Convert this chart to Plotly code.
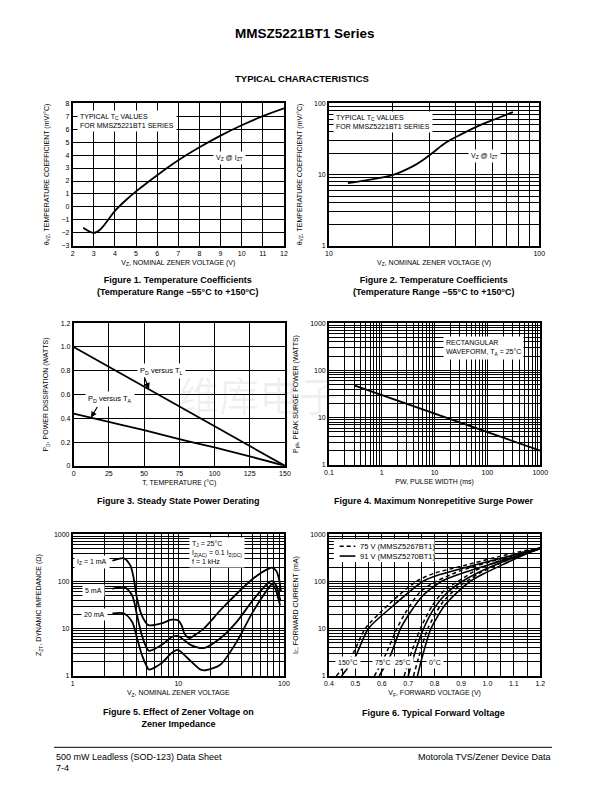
import plotly.graph_objects as go

# ---------------- data ----------------
# Figure 1: temperature coefficient vs Vz (2-12 V)
vz1 = [2.5, 3.0, 3.3, 3.7, 4.0, 4.5, 5.0, 6.0, 7.0, 8.0, 9.0, 10.0, 11.0, 12.0]
tc1 = [-1.6, -2.0, -1.75, -0.95, -0.3, 0.5, 1.2, 2.45, 3.6, 4.6, 5.5, 6.3, 7.0, 7.6]

# Figure 2: temperature coefficient vs Vz (10-100 V)
vz2 = [12.3, 15, 20, 25, 28, 31, 36, 42, 53, 62, 75]
tc2 = [7.6, 8.3, 9.8, 13, 16, 20, 28, 36, 50, 60, 75]

# Figure 3: power derating
t_l = [0, 150]
pd_tl = [1.0, 0.0]
t_a = [0, 25, 50, 75, 100, 125, 150]
pd_ta = [0.44, 0.37, 0.30, 0.225, 0.155, 0.08, 0.0]

# Figure 4: surge power vs pulse width
pw = [0.3, 1, 10, 100, 1000]
ppk = [48, 30, 12, 5, 2]

# Figure 5: dynamic impedance vs Vz
vz5_1ma = [2.38, 3.06, 3.52, 3.79, 4.07, 4.52, 5.22, 6.93, 8.6, 10.0, 10.8, 11.4, 12.7, 14.5, 17.5, 25, 35.7, 50.8, 72.6, 78, 85, 90, 94]
z5_1ma = [275, 310, 216, 114, 43, 19, 11.9, 12.9, 15.5, 15.0, 11.5, 8.0, 6.3, 7.5, 10.2, 24.6, 55, 114, 190, 195, 165, 110, 60]
vz5_5ma = [2.38, 3.06, 3.65, 4.07, 4.52, 5.03, 5.28, 6.93, 8.6, 10.0, 11.5, 13.2, 17.5, 25, 35.7, 50.8, 72.6, 77, 85, 90, 93]
z5_5ma = [70, 76, 51, 19, 7.3, 3.9, 3.4, 4.5, 6.6, 7.0, 5.6, 4.5, 3.9, 6.3, 14, 40, 97, 102, 80, 50, 38]
vz5_20ma = [2.38, 3.06, 3.65, 4.07, 4.52, 5.03, 5.28, 6.93, 8.6, 9.9, 12.2, 16.3, 18, 25, 35.7, 50.8, 72.6, 77, 83, 88, 92]
z5_20ma = [21, 21, 14, 6.3, 2.8, 1.6, 1.36, 1.87, 3.04, 3.56, 2.4, 1.36, 1.32, 1.73, 5.3, 22.7, 76, 88, 70, 45, 31]

# Figure 6: forward voltage (75 V dashed / 91 V solid)
vf_150_75 = [0.428, 0.484, 0.537, 0.632, 0.73, 0.80, 0.91, 1.033, 1.157, 1.20]
if_150_75 = [1, 2.5, 10, 35, 100, 150, 216, 325, 470, 520]
vf_150_91 = [0.448, 0.499, 0.549, 0.644, 0.755, 0.82, 0.92, 1.04, 1.16, 1.20]
if_150_91 = [1, 2.5, 10, 31, 100, 140, 200, 300, 440, 510]
vf_75_75 = [0.572, 0.61, 0.657, 0.69, 0.745, 0.805, 0.90, 1.03, 1.15, 1.20]
if_75_75 = [1, 2.5, 10, 22, 60, 100, 170, 280, 440, 505]
vf_75_91 = [0.59, 0.63, 0.671, 0.70, 0.755, 0.825, 0.92, 1.04, 1.16, 1.20]
if_75_91 = [1, 2.5, 10, 19, 50, 100, 160, 260, 420, 500]
vf_25_75 = [0.685, 0.706, 0.746, 0.79, 0.84, 0.889, 0.95, 1.04, 1.14, 1.20]
if_25_75 = [1, 2.5, 10, 30, 68, 100, 165, 270, 420, 505]
vf_25_91 = [0.70, 0.72, 0.758, 0.80, 0.85, 0.904, 0.96, 1.05, 1.15, 1.20]
if_25_91 = [1, 2.5, 10, 28, 60, 100, 150, 250, 400, 500]
vf_0_75 = [0.72, 0.74, 0.774, 0.83, 0.89, 0.922, 0.97, 1.05, 1.14, 1.20]
if_0_75 = [1, 2.5, 10, 36, 78, 100, 150, 245, 405, 505]
vf_0_91 = [0.735, 0.753, 0.786, 0.84, 0.90, 0.934, 0.98, 1.06, 1.15, 1.20]
if_0_91 = [1, 2.5, 10, 32, 70, 100, 140, 230, 390, 500]

legend_75 = "75 V (MMSZ5267BT1)"
legend_91 = "91 V (MMSZ5270BT1)"

# ---------------- layout helpers ----------------
PAGE_W, PAGE_H = 612, 792
OFF = 8  # browser body margin
W, H = PAGE_W - 2 * OFF, PAGE_H - 2 * OFF  # figure fits the viewport exactly
FONT = "Liberation Sans, Arial, Helvetica, sans-serif"


def px(x):
    return (x - OFF) / W


def py(y):
    return 1 - (y - OFF) / H


def dx(a, b):
    return [px(a), px(b)]


def dy(top, bottom):
    return [py(bottom), py(top)]


def log_ticks(e0, e1, labels):
    vals, text = [], []
    for e in range(e0, e1):
        for m in range(1, 10):
            vals.append(m * 10.0 ** e)
            text.append(labels[e - e0] if m == 1 else "")
    vals.append(10.0 ** e1)
    text.append(labels[-1])
    return vals, text


def ax(domain, anchor, title, standoff=4, **kw):
    d = dict(domain=domain, anchor=anchor, showline=True, linecolor="black", linewidth=1.6,
             mirror=True, showgrid=True, gridcolor="black", gridwidth=1.4, zeroline=False,
             ticks="", tickfont=dict(size=7, color="black", family=FONT),
             title=dict(text=title, font=dict(size=7, color="black", family=FONT), standoff=standoff))
    d.update(kw)
    return d


LINE = dict(color="black", width=1.8)

fig = go.Figure()

# Figure 1
fig.add_trace(go.Scatter(x=vz1, y=tc1, mode="lines", line=dict(LINE, shape="spline"),
                         xaxis="x", yaxis="y", showlegend=False))
# Figure 2
fig.add_trace(go.Scatter(x=vz2, y=tc2, mode="lines", line=dict(LINE, shape="spline"),
                         xaxis="x2", yaxis="y2", showlegend=False))
# Figure 3
fig.add_trace(go.Scatter(x=t_l, y=pd_tl, mode="lines", line=LINE, xaxis="x3", yaxis="y3", showlegend=False))
fig.add_trace(go.Scatter(x=t_a, y=pd_ta, mode="lines", line=dict(LINE, shape="spline"),
                         xaxis="x3", yaxis="y3", showlegend=False))
# Figure 4
fig.add_trace(go.Scatter(x=pw, y=ppk, mode="lines", line=LINE, xaxis="x4", yaxis="y4", showlegend=False))
# Figure 5
for xs, ys in [(vz5_1ma, z5_1ma), (vz5_5ma, z5_5ma), (vz5_20ma, z5_20ma)]:
    fig.add_trace(go.Scatter(x=xs, y=ys, mode="lines", line=dict(LINE, shape="spline", smoothing=0.8),
                             xaxis="x5", yaxis="y5", showlegend=False))
# Figure 6
pairs = [(vf_150_75, if_150_75, vf_150_91, if_150_91),
         (vf_75_75, if_75_75, vf_75_91, if_75_91),
         (vf_25_75, if_25_75, vf_25_91, if_25_91),
         (vf_0_75, if_0_75, vf_0_91, if_0_91)]
for k, (xd, yd, xs, ys) in enumerate(pairs):
    fig.add_trace(go.Scatter(x=xd, y=yd, mode="lines", name=legend_75, showlegend=False,
                             line=dict(color="black", width=1.5, dash="4px,3px", shape="spline", smoothing=0.7),
                             xaxis="x6", yaxis="y6"))
    fig.add_trace(go.Scatter(x=xs, y=ys, mode="lines", name=legend_91, showlegend=False,
                             line=dict(color="black", width=1.6, shape="spline", smoothing=0.7),
                             xaxis="x6", yaxis="y6"))

# axes
vz_lbl = "V<sub>Z</sub>, NOMINAL ZENER VOLTAGE (V)"
tc_lbl = "θ<sub>VZ</sub>, TEMPERATURE COEFFICIENT (mV/°C)"

x2v, x2t = log_ticks(1, 2, ["10", "100"])
y2v, y2t = log_ticks(0, 2, ["1", "10", "100"])
x4v, x4t = log_ticks(-1, 3, ["0.1", "1", "10", "100", "1000"])
y4v, y4t = log_ticks(0, 3, ["1", "10", "100", "1000"])
x5v, x5t = log_ticks(0, 2, ["1", "10", "100"])
x6v = [round(0.4 + 0.05 * i, 2) for i in range(17)]
x6t = [("%.1f" % v) if i % 2 == 0 else "" for i, v in enumerate(x6v)]

YS = 11  # y title standoff

fig.update_layout(
    width=W, height=H, margin=dict(l=0, r=0, t=0, b=0),
    paper_bgcolor="white", plot_bgcolor="white", showlegend=False,
    font=dict(family=FONT, color="black"),
    xaxis=ax(dx(69, 285), "y", vz_lbl, range=[2, 12], tickvals=list(range(2, 13))),
    yaxis=ax(dy(100, 244), "x", tc_lbl, YS, range=[-3, 8], tickvals=list(range(-3, 9))),
    xaxis2=ax(dx(331, 546), "y2", vz_lbl, type="log", range=[1, 2], tickvals=x2v, ticktext=x2t),
    yaxis2=ax(dy(100, 244), "x2", tc_lbl, YS, type="log", range=[0, 2], tickvals=y2v, ticktext=y2t),
    xaxis3=ax(dx(70, 286), "y3", "T, TEMPERATURE (°C)", range=[0, 150], tickvals=[0, 25, 50, 75, 100, 125, 150]),
    yaxis3=ax(dy(322, 466), "x3", "P<sub>D</sub>, POWER DISSIPATION (WATTS)", YS, range=[0, 1.2],
              tickvals=[0, 0.2, 0.4, 0.6, 0.8, 1.0, 1.2], ticktext=["0", "0.2", "0.4", "0.6", "0.8", "1.0", "1.2"]),
    xaxis4=ax(dx(331, 547), "y4", "PW, PULSE WIDTH (ms)", type="log", range=[-1, 3], tickvals=x4v, ticktext=x4t),
    yaxis4=ax(dy(322, 465), "x4", "P<sub>pk</sub>, PEAK SURGE POWER (WATTS)", YS, type="log", range=[0, 3],
              tickvals=y4v, ticktext=y4t),
    xaxis5=ax(dx(69, 285), "y5", "V<sub>Z</sub>, NOMINAL ZENER VOLTAGE", type="log", range=[0, 2],
              tickvals=x5v, ticktext=x5t),
    yaxis5=ax(dy(535, 678), "x5", "Z<sub>ZT</sub>, DYNAMIC IMPEDANCE (Ω)", YS, type="log", range=[0, 3],
              tickvals=y4v, ticktext=y4t),
    xaxis6=ax(dx(331, 547), "y6", "V<sub>F</sub>, FORWARD VOLTAGE (V)", range=[0.4, 1.2], tickvals=x6v, ticktext=x6t),
    yaxis6=ax(dy(535, 678), "x6", "I<sub>F</sub>, FORWARD CURRENT (mA)", YS, type="log", range=[0, 3],
              tickvals=y4v, ticktext=y4t),
)

ann = []


def note(text, x, y, xref, yref, size=7, xanchor="center", yanchor="middle", bg=None, align="center", **kw):
    d = dict(text=text, x=x, y=y, xref=xref, yref=yref, showarrow=False, xanchor=xanchor, yanchor=yanchor,
             align=align, font=dict(size=size, family=FONT, color="black"))
    if bg:
        d.update(bgcolor=bg, borderpad=2)
    d.update(kw)
    ann.append(d)


# watermark (very faint)
note("维库电子", px(259), py(393), "paper", "paper",
     font=dict(size=40, family="Noto Sans CJK SC", color="rgba(0,0,0,0.06)"))

# page titles
note("<b>MMSZ5221BT1 Series</b>", px(306), py(30), "paper", "paper", size=13.5)
note("<b>TYPICAL CHARACTERISTICS</b>", px(303), py(75), "paper", "paper", size=9.5)

# captions
note("<b>Figure 1. Temperature Coefficients<br>(Temperature Range −55°C to +150°C)</b>", px(177), py(284),
     "paper", "paper", size=9)
note("<b>Figure 2. Temperature Coefficients<br>(Temperature Range −55°C to +150°C)</b>", px(438), py(284),
     "paper", "paper", size=9)
note("<b>Figure 3. Steady State Power Derating</b>", px(177), py(501), "paper", "paper", size=9)
note("<b>Figure 4. Maximum Nonrepetitive Surge Power</b>", px(438), py(501), "paper", "paper", size=9)
note("<b>Figure 5. Effect of Zener Voltage on<br>Zener Impedance</b>", px(177), py(720), "paper", "paper", size=9)
note("<b>Figure 6. Typical Forward Voltage</b>", px(438), py(715), "paper", "paper", size=9)

# footer
note("500 mW Leadless (SOD-123) Data Sheet", px(50), py(760), "paper", "paper", size=9, xanchor="left")
note("7-4", px(50), py(771), "paper", "paper", size=9, xanchor="left")
note("Motorola TVS/Zener Device Data", px(559), py(760), "paper", "paper", size=9, xanchor="right")

# Figure 1/2 notes
note("TYPICAL T<sub>C</sub> VALUES<br>FOR MMSZ5221BT1 SERIES", 2.2, 7.45, "x", "y", xanchor="left", yanchor="top",
     bg="white", align="left")
note("V<sub>Z</sub> @ I<sub>ZT</sub>", 9.4, 3.8, "x", "y", bg="white")
note("TYPICAL T<sub>C</sub> VALUES<br>FOR MMSZ5221BT1 SERIES", 1.0186, 1.889, "x2", "y2", xanchor="left",
     yanchor="top", bg="white", align="left")
note("V<sub>Z</sub> @ I<sub>ZT</sub>", 1.7395, 1.264, "x2", "y2", bg="white")

# Figure 3 labels + arrows
note("P<sub>D</sub> versus T<sub>L</sub>", 62.5, 0.8, "x3", "y3", size=7.5, bg="white")
note("P<sub>D</sub> versus T<sub>A</sub>", 25.7, 0.56, "x3", "y3", size=7.5, bg="white")
for (tx, ty, hx, hy) in [(49.8, 0.758, 53.5, 0.646), (17.4, 0.508, 12.3, 0.406)]:
    ann.append(dict(x=hx, y=hy, ax=tx, ay=ty, xref="x3", yref="y3", axref="x3", ayref="y3", text="",
                    showarrow=True, arrowhead=2, arrowsize=1, arrowwidth=1.2, arrowcolor="black"))

# Figure 4 note
note("RECTANGULAR<br>WAVEFORM, T<sub>A</sub> = 25°C", 1.16, 2.73, "x4", "y4", xanchor="left", yanchor="top",
     bg="white", align="left")

# Figure 5 notes
note("I<sub>Z</sub> = 1 mA", 0.35, 2.406, "x5", "y5", xanchor="right", bg="white")
note("5 mA", 0.31, 1.81, "x5", "y5", xanchor="right", bg="white")
note("20 mA", 0.33, 1.31, "x5", "y5", xanchor="right", bg="white")
note("T<sub>J</sub> = 25°C<br>I<sub>Z(AC)</sub> = 0.1 I<sub>Z(DC)</sub><br>f = 1 kHz", 1.1, 2.95, "x5", "y5",
     xanchor="left", yanchor="top", bg="white", align="left")

# Figure 6 temperature labels
for lbl, xv in [("150°C", 0.471), ("75°C", 0.605), ("25°C", 0.681), ("0°C", 0.803)]:
    note(lbl, xv, 0.275, "x6", "y6", bg="white")

# Figure 6 key (legend) text
note(legend_75, px(361), py(547), "paper", "paper", size=7.5, xanchor="left")
note(legend_91, px(361), py(557), "paper", "paper", size=7.5, xanchor="left")

fig.update_layout(annotations=ann)

# Figure 6 key box and line samples
fig.add_shape(type="rect", xref="paper", yref="paper", x0=px(336), x1=px(439), y0=py(563), y1=py(540),
              fillcolor="white", line=dict(width=0), layer="above")
fig.add_shape(type="line", xref="paper", yref="paper", x0=px(342), x1=px(358), y0=py(547), y1=py(547),
              line=dict(color="black", width=1.5, dash="4px,3px"), layer="above")
fig.add_shape(type="line", xref="paper", yref="paper", x0=px(342), x1=px(358), y0=py(557), y1=py(557),
              line=dict(color="black", width=1.6), layer="above")

# footer rule
fig.add_shape(type="line", xref="paper", yref="paper", x0=px(50), x1=px(559), y0=py(750), y1=py(750),
              line=dict(color="black", width=1))

fig.write_html("out.html")
